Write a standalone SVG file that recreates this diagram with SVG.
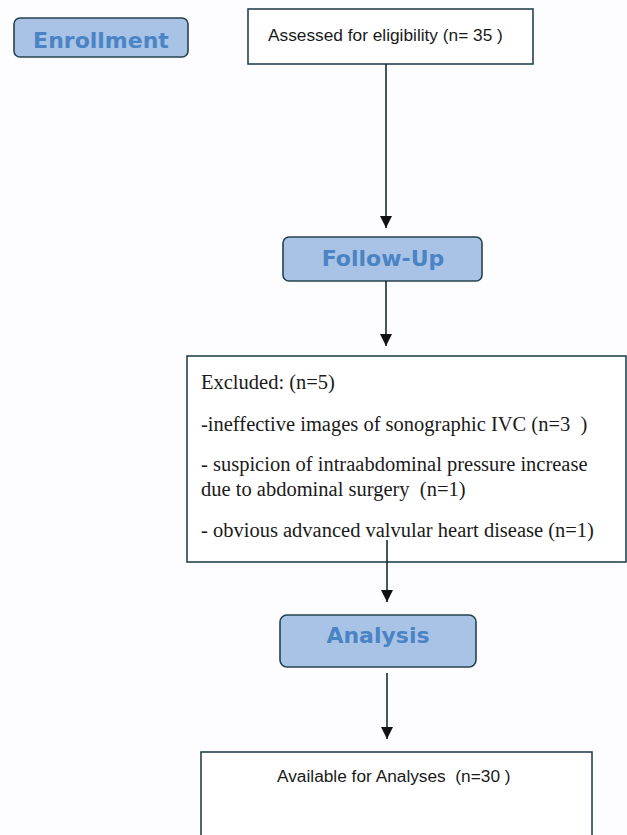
<svg xmlns="http://www.w3.org/2000/svg" width="627" height="835" viewBox="0 0 627 835">
<defs>
<style>
text{white-space:pre}
.stage rect{fill:#a9c3e6;stroke:#264250;stroke-width:1.6}
.stage text{font-family:"DejaVu Sans",sans-serif;font-weight:bold;font-size:22px;fill:#4a84c4;text-anchor:middle}
.box rect{fill:#ffffff;stroke:#264250;stroke-width:1.6}
.sans{font-family:"Liberation Sans",Arial,sans-serif;font-size:17.3px;fill:#1a1a1a}
.serif{font-family:"Liberation Serif","Times New Roman",serif;font-size:20.5px;fill:#1a1a1a}
.conn line{stroke:#1a2a30;stroke-width:1.6;marker-end:url(#arr)}
</style>
<marker id="arr" markerUnits="userSpaceOnUse" markerWidth="14" markerHeight="12" refX="12" refY="6" orient="auto">
<path d="M0,0 L12,6 L0,12 Z" fill="#111"/>
</marker>
</defs>
<rect x="0" y="0" width="627" height="835" fill="#fdfdff"/>
<g id="enrollment" class="stage">
<rect x="14" y="18" width="174" height="39" rx="6"/>
<text x="101" y="47.5">Enrollment</text>
</g>
<g id="assessed" class="box">
<rect x="248" y="9" width="285" height="55"/>
<text class="sans" x="268" y="41" xml:space="preserve">Assessed for eligibility (n= 35 )</text>
</g>
<g id="followup" class="stage">
<rect x="283" y="237" width="199" height="44" rx="6"/>
<text x="383" y="266">Follow-Up</text>
</g>
<g id="excluded" class="box">
<rect x="187" y="356" width="439" height="206"/>
<text class="serif" x="201" y="389">Excluded: (n=5)</text>
<text class="serif" x="201" y="431" xml:space="preserve">-ineffective images of sonographic IVC (n=3  )</text>
<text class="serif" x="201" y="471">- suspicion of intraabdominal pressure increase</text>
<text class="serif" x="201" y="496" xml:space="preserve">due to abdominal surgery  (n=1)</text>
<text class="serif" x="201" y="537">- obvious advanced valvular heart disease (n=1)</text>
</g>
<g id="analysis" class="stage">
<rect x="280" y="615" width="196" height="52" rx="7"/>
<text x="378" y="643">Analysis</text>
</g>
<g id="available" class="box">
<rect x="201" y="752" width="391" height="100"/>
<text class="sans" x="277" y="782" xml:space="preserve">Available for Analyses  (n=30 )</text>
</g>
<g id="connectors" class="conn">
<line x1="386" y1="64" x2="386" y2="228"/>
<line x1="386" y1="281" x2="386" y2="346"/>
<line x1="387" y1="540" x2="387" y2="602"/>
<line x1="387" y1="673" x2="387" y2="739"/>
</g>
</svg>
